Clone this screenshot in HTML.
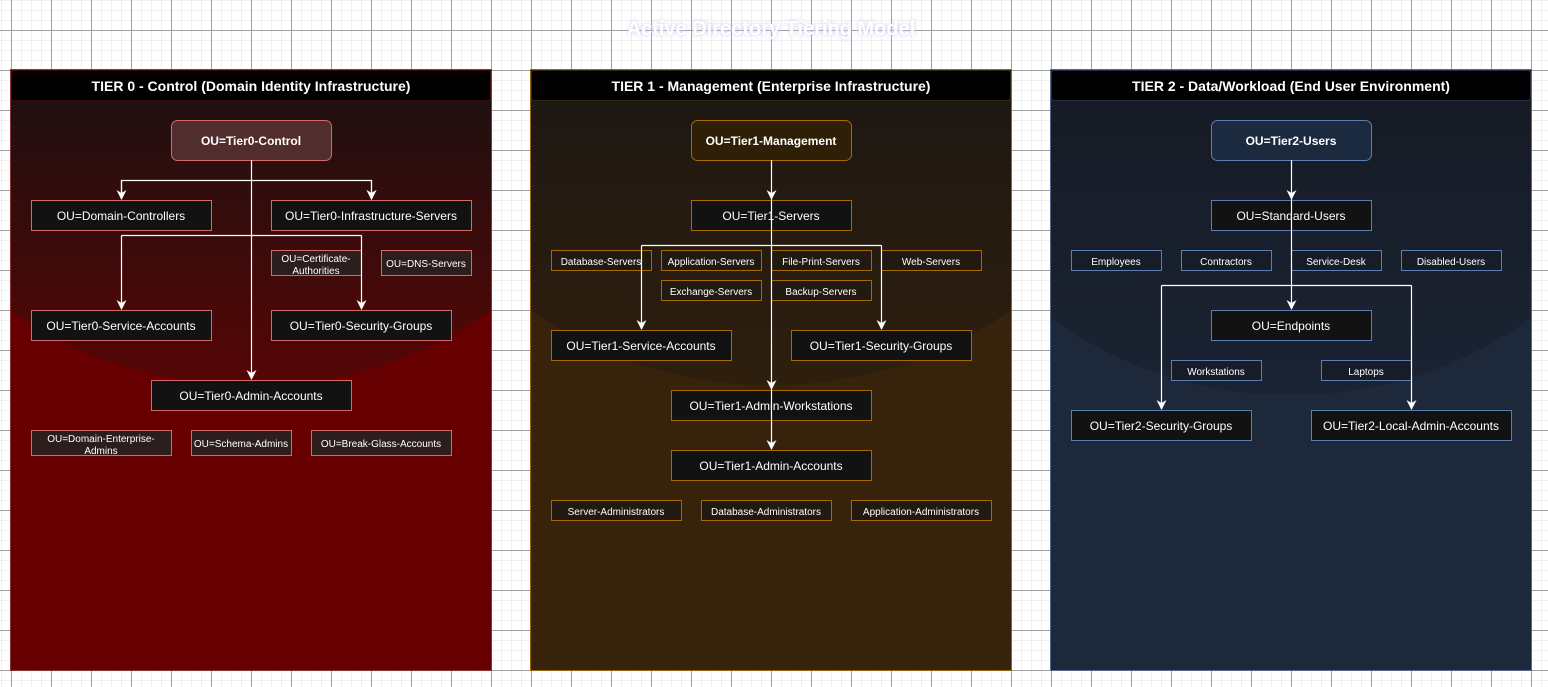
<!DOCTYPE html>
<html><head><meta charset="utf-8"><style>
html,body{margin:0;padding:0;width:1548px;height:687px;overflow:hidden;background:#fff}
svg{display:block}
text{font-family:"Liberation Sans",Arial,sans-serif;fill:#fff}
</style></head><body>
<svg width="1548" height="687" viewBox="0 0 1548 687" xmlns="http://www.w3.org/2000/svg">
<defs>
<pattern id="gmin" width="10" height="10" patternUnits="userSpaceOnUse" x="1" y="0">
<path d="M0 0H10M0 0V10" stroke="#e2e2e2" stroke-width="1" fill="none"/>
</pattern>
<pattern id="gmaj" width="40" height="40" patternUnits="userSpaceOnUse" x="11" y="30">
<path d="M0 0.5H40M0.5 0V40" stroke="#a0a0a0" stroke-width="1" fill="none"/>
</pattern>
<linearGradient id="g0" x1="0" y1="100" x2="0" y2="385" gradientUnits="userSpaceOnUse"><stop offset="0" stop-color="#201010"/><stop offset="1" stop-color="#560505"/></linearGradient>
<linearGradient id="g1" x1="0" y1="100" x2="0" y2="385" gradientUnits="userSpaceOnUse"><stop offset="0" stop-color="#1e1812"/><stop offset="1" stop-color="#2e1e0e"/></linearGradient>
<linearGradient id="g2" x1="0" y1="100" x2="0" y2="385" gradientUnits="userSpaceOnUse"><stop offset="0" stop-color="#161b25"/><stop offset="1" stop-color="#1b2333"/></linearGradient>
<clipPath id="c0"><rect x="11" y="70" width="480" height="600"/></clipPath>
<clipPath id="c1"><rect x="531" y="70" width="480" height="600"/></clipPath>
<clipPath id="c2"><rect x="1051" y="70" width="480" height="600"/></clipPath>
<marker id="ar" viewBox="0 0 10 10" refX="9" refY="5" markerWidth="10" markerHeight="10" markerUnits="userSpaceOnUse" orient="auto"><path d="M0 0L10 5L0 10L3 5Z" fill="#fff"/></marker>
<filter id="glow"><feGaussianBlur stdDeviation="2"/></filter>
</defs>
<rect width="1548" height="687" fill="#fff"/>
<rect width="1548" height="687" fill="url(#gmin)"/>
<rect width="1548" height="687" fill="url(#gmaj)"/>

<text x="771" y="35" text-anchor="middle" font-size="20" font-weight="bold" style="fill:#c8c8f0" filter="url(#glow)">Active Directory Tiering Model</text>
<text x="771" y="35" text-anchor="middle" font-size="20" font-weight="bold">Active Directory Tiering Model</text>

<!-- Panels -->
<g>
<rect x="10.5" y="69.5" width="481" height="601" fill="#660000" stroke="#8a3535"/>
<ellipse cx="251" cy="100" rx="355" ry="285" fill="url(#g0)" clip-path="url(#c0)"/>
<rect x="11.5" y="70.5" width="479" height="30" rx="3" fill="#000" stroke="#3a0a0a"/>
<text x="251" y="91" text-anchor="middle" font-size="14" font-weight="bold">TIER 0 - Control (Domain Identity Infrastructure)</text>

<rect x="530.5" y="69.5" width="481" height="601" fill="#37230c" stroke="#9a6510"/>
<ellipse cx="771" cy="100" rx="355" ry="285" fill="url(#g1)" clip-path="url(#c1)"/>
<rect x="531.5" y="70.5" width="479" height="30" rx="3" fill="#000" stroke="#2e2408"/>
<text x="771" y="91" text-anchor="middle" font-size="14" font-weight="bold">TIER 1 - Management (Enterprise Infrastructure)</text>

<rect x="1050.5" y="69.5" width="481" height="601" fill="#1e283b" stroke="#556a8a"/>
<ellipse cx="1291" cy="100" rx="355" ry="295" fill="url(#g2)" clip-path="url(#c2)"/>
<rect x="1051.5" y="70.5" width="479" height="30" rx="3" fill="#000" stroke="#222c3c"/>
<text x="1291" y="91" text-anchor="middle" font-size="14" font-weight="bold">TIER 2 - Data/Workload (End User Environment)</text>
</g>

<!-- Tier 0 nodes -->
<g stroke="#d46a6a" stroke-width="1">
<rect x="171.5" y="120.5" width="160" height="40" rx="6" fill="#522d2d"/>
<rect x="31.5" y="200.5" width="180" height="30" fill="#121212"/>
<rect x="271.5" y="200.5" width="200" height="30" fill="#121212"/>
<rect x="271.5" y="250.5" width="90" height="25" fill="#2d1e1e"/>
<rect x="381.5" y="250.5" width="90" height="25" fill="#2d1e1e"/>
<rect x="31.5" y="310.5" width="180" height="30" fill="#121212"/>
<rect x="271.5" y="310.5" width="180" height="30" fill="#121212"/>
<rect x="151.5" y="380.5" width="200" height="30" fill="#121212"/>
<rect x="31.5" y="430.5" width="140" height="25" fill="#2d1e1e"/>
<rect x="191.5" y="430.5" width="100" height="25" fill="#2d1e1e"/>
<rect x="311.5" y="430.5" width="140" height="25" fill="#2d1e1e"/>
</g>
<g font-size="12" text-anchor="middle">
<text x="251" y="145" font-weight="bold">OU=Tier0-Control</text>
<text x="121" y="220">OU=Domain-Controllers</text>
<text x="371" y="220">OU=Tier0-Infrastructure-Servers</text>
<text x="121" y="330">OU=Tier0-Service-Accounts</text>
<text x="361" y="330">OU=Tier0-Security-Groups</text>
<text x="251" y="400">OU=Tier0-Admin-Accounts</text>
</g>
<g font-size="10" text-anchor="middle">
<text x="316" y="262">OU=Certificate-</text><text x="316" y="274">Authorities</text>
<text x="426" y="267">OU=DNS-Servers</text>
<text x="101" y="442">OU=Domain-Enterprise-</text><text x="101" y="454">Admins</text>
<text x="241" y="447">OU=Schema-Admins</text>
<text x="381" y="447">OU=Break-Glass-Accounts</text>
</g>
<g stroke="#fff" stroke-width="1.2" fill="none">
<path d="M251.5 160V379" marker-end="url(#ar)"/>
<path d="M121.5 199V180.5H371.5V199" marker-end="url(#ar)" marker-start="url(#ar)" style="marker-start:none"/>
<path d="M121.5 180.5V199" marker-end="url(#ar)"/>
<path d="M371.5 180.5V199" marker-end="url(#ar)"/>
<path d="M121.5 235.5H361.5"/>
<path d="M121.5 235.5V309" marker-end="url(#ar)"/>
<path d="M361.5 235.5V309" marker-end="url(#ar)"/>
</g>

<!-- Tier 1 nodes -->
<g stroke="#a66a00" stroke-width="1">
<rect x="691.5" y="120.5" width="160" height="40" rx="6" fill="#2e1f06"/>
<rect x="691.5" y="200.5" width="160" height="30" fill="#121212"/>
<rect x="551.5" y="250.5" width="100" height="20" fill="#221a10"/>
<rect x="661.5" y="250.5" width="100" height="20" fill="#221a10"/>
<rect x="771.5" y="250.5" width="100" height="20" fill="#221a10"/>
<rect x="881.5" y="250.5" width="100" height="20" fill="#221a10"/>
<rect x="661.5" y="280.5" width="100" height="20" fill="#221a10"/>
<rect x="771.5" y="280.5" width="100" height="20" fill="#221a10"/>
<rect x="551.5" y="330.5" width="180" height="30" fill="#121212"/>
<rect x="791.5" y="330.5" width="180" height="30" fill="#121212"/>
<rect x="671.5" y="390.5" width="200" height="30" fill="#121212"/>
<rect x="671.5" y="450.5" width="200" height="30" fill="#121212"/>
<rect x="551.5" y="500.5" width="130" height="20" fill="#221a10"/>
<rect x="701.5" y="500.5" width="130" height="20" fill="#221a10"/>
<rect x="851.5" y="500.5" width="140" height="20" fill="#221a10"/>
</g>
<g font-size="12" text-anchor="middle">
<text x="771" y="145" font-weight="bold">OU=Tier1-Management</text>
<text x="771" y="220">OU=Tier1-Servers</text>
<text x="641" y="350">OU=Tier1-Service-Accounts</text>
<text x="881" y="350">OU=Tier1-Security-Groups</text>
<text x="771" y="410">OU=Tier1-Admin-Workstations</text>
<text x="771" y="470">OU=Tier1-Admin-Accounts</text>
</g>
<g font-size="10" text-anchor="middle">
<text x="601" y="265">Database-Servers</text>
<text x="711" y="265">Application-Servers</text>
<text x="821" y="265">File-Print-Servers</text>
<text x="931" y="265">Web-Servers</text>
<text x="711" y="295">Exchange-Servers</text>
<text x="821" y="295">Backup-Servers</text>
<text x="616" y="515">Server-Administrators</text>
<text x="766" y="515">Database-Administrators</text>
<text x="921" y="515">Application-Administrators</text>
</g>
<g stroke="#fff" stroke-width="1.2" fill="none">
<path d="M771.5 160V199" marker-end="url(#ar)"/>
<path d="M771.5 199V389" marker-end="url(#ar)"/>
<path d="M771.5 389V449" marker-end="url(#ar)"/>
<path d="M641.5 245.5H881.5"/>
<path d="M641.5 245.5V329" marker-end="url(#ar)"/>
<path d="M881.5 245.5V329" marker-end="url(#ar)"/>
</g>

<!-- Tier 2 nodes -->
<g stroke="#5a7fb0" stroke-width="1">
<rect x="1211.5" y="120.5" width="160" height="40" rx="6" fill="#1c2a40"/>
<rect x="1211.5" y="200.5" width="160" height="30" fill="#121212"/>
<rect x="1071.5" y="250.5" width="90" height="20" fill="#171d28"/>
<rect x="1181.5" y="250.5" width="90" height="20" fill="#171d28"/>
<rect x="1291.5" y="250.5" width="90" height="20" fill="#171d28"/>
<rect x="1401.5" y="250.5" width="100" height="20" fill="#171d28"/>
<rect x="1211.5" y="310.5" width="160" height="30" fill="#121212"/>
<rect x="1171.5" y="360.5" width="90" height="20" fill="#171d28"/>
<rect x="1321.5" y="360.5" width="90" height="20" fill="#171d28"/>
<rect x="1071.5" y="410.5" width="180" height="30" fill="#121212"/>
<rect x="1311.5" y="410.5" width="200" height="30" fill="#121212"/>
</g>
<g font-size="12" text-anchor="middle">
<text x="1291" y="145" font-weight="bold">OU=Tier2-Users</text>
<text x="1291" y="220">OU=Standard-Users</text>
<text x="1291" y="330">OU=Endpoints</text>
<text x="1161" y="430">OU=Tier2-Security-Groups</text>
<text x="1411" y="430">OU=Tier2-Local-Admin-Accounts</text>
</g>
<g font-size="10" text-anchor="middle">
<text x="1116" y="265">Employees</text>
<text x="1226" y="265">Contractors</text>
<text x="1336" y="265">Service-Desk</text>
<text x="1451" y="265">Disabled-Users</text>
<text x="1216" y="375">Workstations</text>
<text x="1366" y="375">Laptops</text>
</g>
<g stroke="#fff" stroke-width="1.2" fill="none">
<path d="M1291.5 160V199" marker-end="url(#ar)"/>
<path d="M1291.5 199V309" marker-end="url(#ar)"/>
<path d="M1161.5 285.5H1411.5"/>
<path d="M1161.5 285.5V409" marker-end="url(#ar)"/>
<path d="M1411.5 285.5V409" marker-end="url(#ar)"/>
</g>
</svg>
</body></html>
